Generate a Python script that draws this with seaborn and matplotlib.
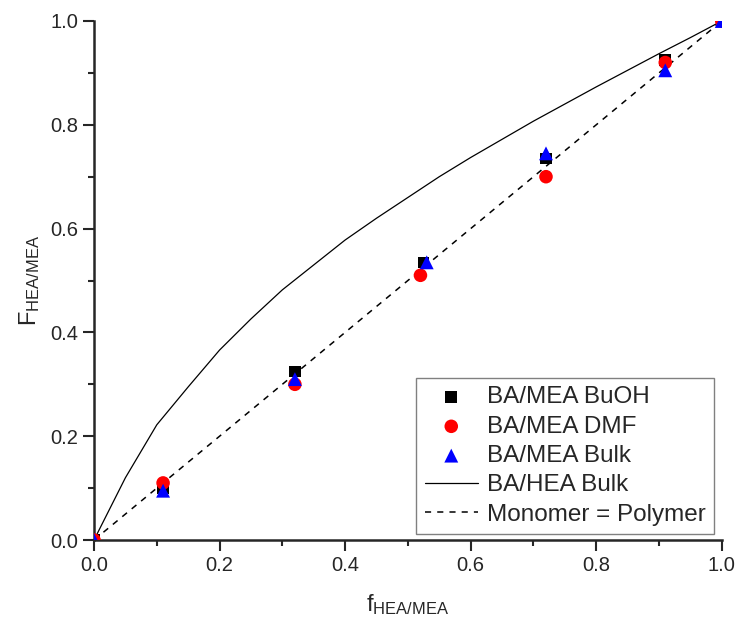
import matplotlib
matplotlib.use("Agg")
import matplotlib.pyplot as plt
import seaborn as sns
import pandas as pd

# ---- data ----
f_buoh = [0.0, 0.11, 0.32, 0.525, 0.72, 0.91, 1.0]
F_buoh = [0.0, 0.10, 0.325, 0.535, 0.735, 0.925, 1.0]

f_dmf = [0.0, 0.11, 0.32, 0.52, 0.72, 0.91, 1.0]
F_dmf = [0.0, 0.11, 0.30, 0.51, 0.70, 0.92, 1.0]

f_bulk = [0.0, 0.11, 0.32, 0.53, 0.72, 0.91, 1.0]
F_bulk = [0.0, 0.095, 0.31, 0.535, 0.745, 0.905, 1.0]

f_hea = [0.0, 0.05, 0.1, 0.15, 0.2, 0.25, 0.3, 0.35, 0.4, 0.45, 0.5,
         0.55, 0.6, 0.65, 0.7, 0.75, 0.8, 0.85, 0.9, 0.95, 1.0]
F_hea = [0.0, 0.12, 0.222, 0.295, 0.366, 0.426, 0.482, 0.53, 0.578, 0.62, 0.66,
         0.70, 0.737, 0.772, 0.807, 0.84, 0.873, 0.905, 0.937, 0.968, 1.0]

f_ideal = [0.0, 1.0]
F_ideal = [0.0, 1.0]

xticks = [0.0, 0.2, 0.4, 0.6, 0.8, 1.0]
yticks = [0.0, 0.2, 0.4, 0.6, 0.8, 1.0]

# ---- style ----
sns.set_style("ticks")
plt.rcParams['font.family'] = ['Liberation Sans', 'DejaVu Sans']
plt.rcParams['mathtext.fontset'] = 'custom'
plt.rcParams['mathtext.rm'] = 'Liberation Sans'
plt.rcParams['mathtext.it'] = 'Liberation Sans'

fig = plt.figure(figsize=(7.38, 6.23), dpi=100)
ax = fig.add_axes([0.1274, 0.1332, 0.8506, 0.8331])

df_buoh = pd.DataFrame({"f": f_buoh, "F": F_buoh})
df_dmf = pd.DataFrame({"f": f_dmf, "F": F_dmf})
df_bulk = pd.DataFrame({"f": f_bulk, "F": F_bulk})
df_hea = pd.DataFrame({"f": f_hea, "F": F_hea})
df_ideal = pd.DataFrame({"f": f_ideal, "F": F_ideal})

sns.lineplot(data=df_hea, x="f", y="F", ax=ax, color="black", lw=0.9,
             label="BA/HEA Bulk", zorder=2)
sns.lineplot(data=df_ideal, x="f", y="F", ax=ax, color="black", lw=1.1,
             dashes=False, label="Monomer = Polymer", zorder=2)
ax.lines[-1].set_linestyle((0, (4, 4)))

sns.scatterplot(data=df_buoh, x="f", y="F", ax=ax, marker="s", color="black",
                s=70, edgecolor="none", label="BA/MEA BuOH", zorder=3)
sns.scatterplot(data=df_dmf, x="f", y="F", ax=ax, marker="o", color="red",
                s=95, edgecolor="none", label="BA/MEA DMF", zorder=4)
sns.scatterplot(data=df_bulk, x="f", y="F", ax=ax, marker="^", color="blue",
                s=100, edgecolor="none", label="BA/MEA Bulk", zorder=5)

ax.set_xlim(0, 1)
ax.set_ylim(0, 1)
ax.set_xticks(xticks)
ax.set_yticks(yticks)
ax.set_xticklabels([f"{v:.1f}" for v in xticks])
ax.set_yticklabels([f"{v:.1f}" for v in yticks])
ax.set_xticks([0.1, 0.3, 0.5, 0.7, 0.9], minor=True)
ax.set_yticks([0.1, 0.3, 0.5, 0.7, 0.9], minor=True)
ax.tick_params(which="major", length=8, width=1.5, labelsize=14.5, direction="out")
ax.tick_params(which="minor", length=4, width=1.5, direction="out")
sns.despine(ax=ax)
for sp in ["left", "bottom"]:
    ax.spines[sp].set_linewidth(1.8)

ax.set_xlabel(r"f$_{\mathrm{HEA/MEA}}$", fontsize=17, labelpad=12)
ax.set_ylabel(r"F$_{\mathrm{HEA/MEA}}$", fontsize=17, labelpad=6)

handles, labels = ax.get_legend_handles_labels()
order = ["BA/MEA BuOH", "BA/MEA DMF", "BA/MEA Bulk", "BA/HEA Bulk", "Monomer = Polymer"]
hmap = dict(zip(labels, handles))
leg = ax.legend([hmap[k] for k in order], order, loc="lower right",
                bbox_to_anchor=(0.995, 0.002), fontsize=17.5, frameon=True,
                fancybox=False, edgecolor="gray", framealpha=1,
                handlelength=2.2, handletextpad=0.35, labelspacing=0.3,
                borderpad=0.35, borderaxespad=0.2)
leg.get_frame().set_linewidth(1.0)

fig.savefig("out.png", dpi=100)
